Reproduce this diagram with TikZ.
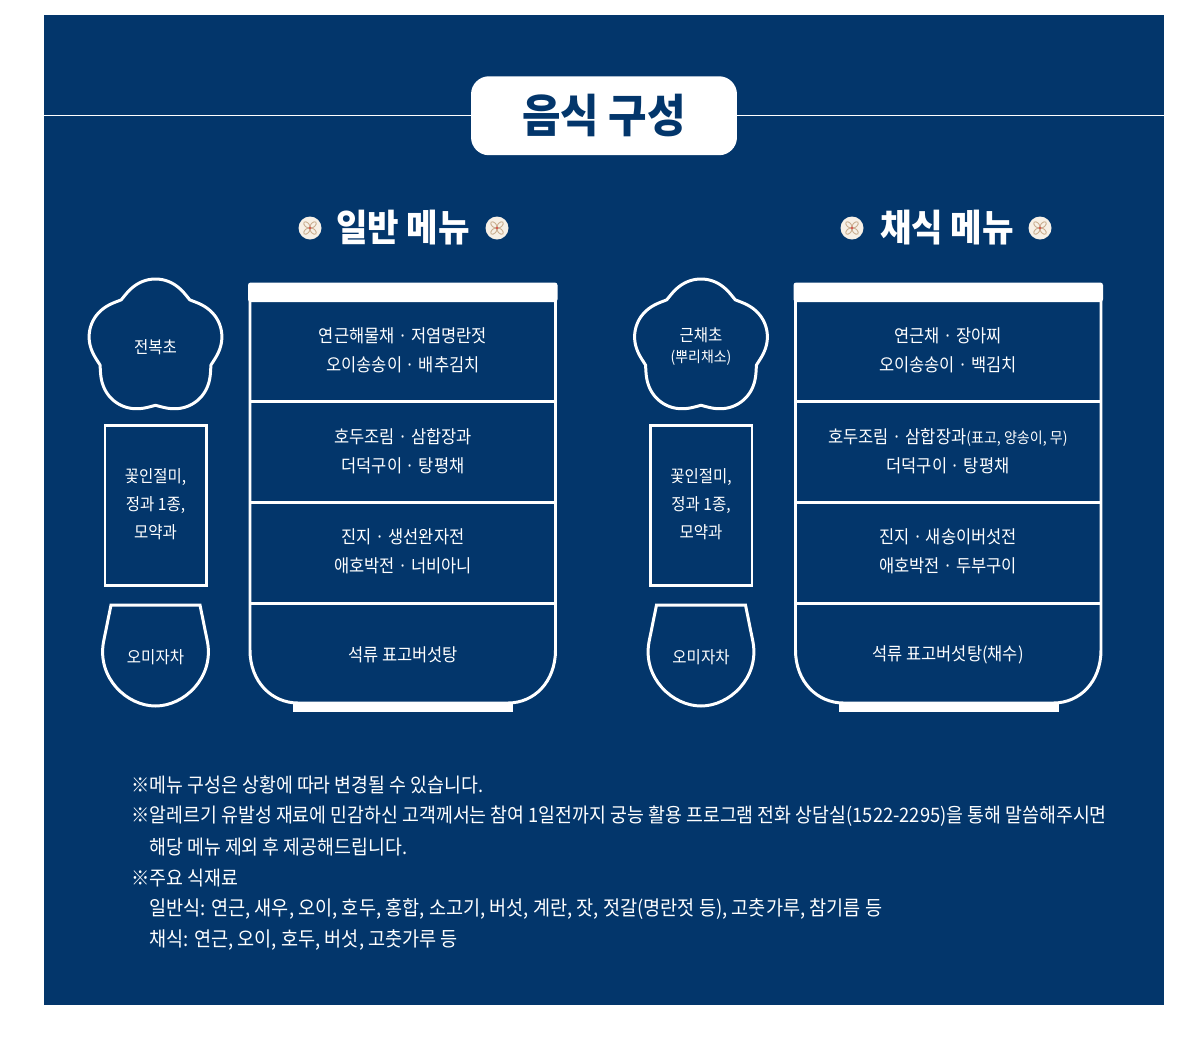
\documentclass[tikz,border=0pt]{standalone}
\usepackage{xcolor}
\usepackage{tikz}
\usepackage{fontspec}
\setmainfont[FakeStretch=0.92]{Noto Sans CJK KR}
\usetikzlibrary{positioning,calc}
\definecolor{panelBlue}{HTML}{03366B}
\definecolor{medalCream}{HTML}{F7F0E6}
\definecolor{petalTan}{HTML}{C9AD8E}
\definecolor{petalRed}{HTML}{D9534F}
\tikzset{
    outline/.style={draw=white,line width=1.7pt},
    solidwhite/.style={fill=white,draw=none},
    rowtext/.style={text=white,align=center,inner sep=0pt,font=\fontsize{10.2}{16.6}\selectfont},
    sidetext/.style={text=white,align=center,inner sep=0pt,font=\fontsize{9.6}{15.9}\selectfont},
    headtext/.style={text=white,inner sep=0pt,font=\fontsize{21.2}{24}\selectfont\bfseries},
    notetext/.style={text=white,anchor=west,inner sep=0pt,font=\fontsize{11.35}{13}\selectfont},
    listtext/.style={notetext,font=\fontsize{11.5}{13}\selectfont},
    medal/.pic={
        \fill[medalCream] (0,0) circle (11.5);
        \foreach \a in {45,135,225,315}
            \draw[petalTan,line width=0.5pt,rotate=\a] (4.5,0) ellipse (3.8 and 2.2);
        \fill[petalRed] (0,0) circle (1.4);
    }
}
\begin{document}
\begin{tikzpicture}[x=0.02cm,y=-0.02cm,
    declare function={
        lobeang(\t)=mod(\t+3546,72)-36;
        lobeamt(\t)=33*cos(lobeang(\t))+sqrt(1225-(33*sin(lobeang(\t)))^2)+2.5*pow(abs(lobeang(\t))/36,6);
    }]
    \useasboundingbox (0,0) rectangle (1178,1042);
    \fill[panelBlue] (44,15) rectangle (1164,1005);

    % heading band
    \coordinate (ruleLeft) at (44,115.75);
    \coordinate (ruleRight) at (1164,115.75);
    \node[solidwhite,rounded corners=0.36cm,minimum width=5.32cm,minimum height=1.58cm,inner sep=0pt,
        text=panelBlue,font=\fontsize{25.9}{30}\selectfont\bfseries] (titleBox) at (604,115.75) {음식 구성};
    \draw[white,line width=0.6pt] (ruleLeft) -- (titleBox);
    \draw[white,line width=0.6pt] (titleBox) -- (ruleRight);

    \node[headtext] (plainHead) at (403,228) {일반 메뉴};
    \node[headtext] (veganHead) at (947,228) {채식 메뉴};
    \pic at (310,228) {medal};
    \pic at (497,228) {medal};
    \pic at (852,228) {medal};
    \pic at (1040,228) {medal};

    % both menus have the same vessels
    \foreach \ox in {0,545.5} {
        \begin{scope}[shift={(\ox,0)}]
            \draw[outline] plot[domain=0:360,samples=241,variable=\t]
                ({155.5+lobeamt(\t)*cos(\t)},{347-lobeamt(\t)*sin(\t)}) -- cycle;
            \draw[outline] (105,425.5) rectangle (206.5,585.5);
            \draw[outline] (111,605) -- (200,605) -- (207.5,642)
                .. controls (214,678) and (184,706) .. (155.5,706)
                .. controls (127,706) and (97,678) .. (103.5,642) -- cycle;
            % tray
            \draw[outline] (250,295) -- (250,650)
                .. controls (250,682) and (272,703) .. (298,703) -- (508,703)
                .. controls (534,703) and (555.5,682) .. (555.5,650) -- (555.5,295);
            \fill[white,rounded corners=1.5pt] (248,282.5) rectangle (557.5,302);
            \fill[white] (293,702) rectangle (513,712);
            \foreach \ry in {401,502,603}
                \draw[outline] (250,\ry) -- (555.5,\ry);
        \end{scope}
    }

    % general menu
    \node[sidetext] (plainSoup) at (155.5,347) {전복초};
    \node[sidetext] (plainSweet) at (155.5,504) {꽃인절미,\\정과 1종,\\모약과};
    \node[sidetext] (plainTea) at (155.5,657) {오미자차};
    \node[rowtext] (plainRowA) at (403,350) {연근해물채 · 저염명란젓\\오이송송이 · 배추김치};
    \node[rowtext] (plainRowB) at (403,451) {호두조림 · 삼합장과\\더덕구이 · 탕평채};
    \node[rowtext] (plainRowC) at (403,551) {진지 · 생선완자전\\애호박전 · 너비아니};
    \node[rowtext] (plainRowD) at (403,655) {석류 표고버섯탕};

    % vegetarian menu
    \node[sidetext] (veganSoup) at (701,346.5) {근채초\\[-0.12cm]{\fontsize{8.6}{12}\selectfont(뿌리채소)}};
    \node[sidetext] (veganSweet) at (701,504) {꽃인절미,\\정과 1종,\\모약과};
    \node[sidetext] (veganTea) at (701,657) {오미자차};
    \node[rowtext] (veganRowA) at (948,350) {연근채 · 장아찌\\오이송송이 · 백김치};
    \node[rowtext] (veganRowB) at (948,451) {호두조림 · 삼합장과{\fontsize{8.7}{12}\selectfont(표고, 양송이, 무)}\\더덕구이 · 탕평채};
    \node[rowtext] (veganRowC) at (948,551) {진지 · 새송이버섯전\\애호박전 · 두부구이};
    \node[rowtext] (veganRowD) at (948,655) {석류 표고버섯탕(채수)};

    % notes
    \node[notetext] (noteA) at (131,785) {※메뉴 구성은 상황에 따라 변경될 수 있습니다.};
    \node[notetext] (noteB) at (131,816) {※알레르기 유발성 재료에 민감하신 고객께서는 참여 1일전까지 궁능 활용 프로그램 전화 상담실(1522-2295)을 통해 말씀해주시면};
    \node[notetext] (noteC) at (149,847) {해당 메뉴 제외 후 제공해드립니다.};
    \node[notetext] (noteD) at (131,878) {※주요 식재료};
    \node[listtext] (noteE) at (149,909) {일반식: 연근, 새우, 오이, 호두, 홍합, 소고기, 버섯, 계란, 잣, 젓갈(명란젓 등), 고춧가루, 참기름 등};
    \node[listtext] (noteF) at (149,940) {채식: 연근, 오이, 호두, 버섯, 고춧가루 등};
\end{tikzpicture}
\end{document}
